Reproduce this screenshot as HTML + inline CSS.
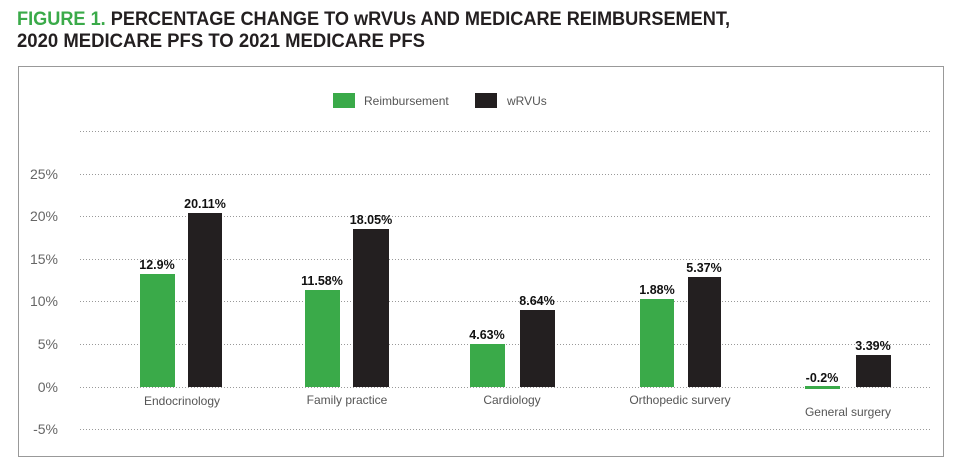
<!DOCTYPE html>
<html><head><style>
body{margin:0;background:#fff;width:956px;height:463px;overflow:hidden;font-family:"Liberation Sans",sans-serif}
</style></head><body>
<svg width="956" height="463" xmlns="http://www.w3.org/2000/svg" font-family="Liberation Sans, sans-serif">
<text x="17" y="25" font-size="19" font-weight="bold" fill="#231f20" textLength="713" lengthAdjust="spacingAndGlyphs"><tspan fill="#3aaa49">FIGURE 1.</tspan> PERCENTAGE CHANGE TO wRVUs AND MEDICARE REIMBURSEMENT,</text>
<text x="17" y="47" font-size="19" font-weight="bold" fill="#231f20" textLength="408" lengthAdjust="spacingAndGlyphs">2020 MEDICARE PFS TO 2021 MEDICARE PFS</text>
<rect x="18.5" y="66.5" width="925" height="390" fill="none" stroke="#999" stroke-width="1"/>
<rect x="333" y="93" width="22" height="15" fill="#3aaa49"/>
<text x="364" y="105" font-size="12" fill="#555">Reimbursement</text>
<rect x="475" y="93" width="22" height="15" fill="#231f20"/>
<text x="507" y="105" font-size="12" fill="#555">wRVUs</text>
<g stroke="#999" stroke-dasharray="1,2" stroke-width="1">
<line x1="80" x2="932" y1="131.5" y2="131.5"/>
<line x1="80" x2="932" y1="174.5" y2="174.5"/>
<line x1="80" x2="932" y1="216.5" y2="216.5"/>
<line x1="80" x2="932" y1="259.5" y2="259.5"/>
<line x1="80" x2="932" y1="301.5" y2="301.5"/>
<line x1="80" x2="932" y1="344.5" y2="344.5"/>
<line x1="80" x2="932" y1="387.5" y2="387.5"/>
<line x1="80" x2="932" y1="429.5" y2="429.5"/>
</g>
<g font-size="14" fill="#666" text-anchor="end">
<text x="58" y="179">25%</text><text x="58" y="221">20%</text><text x="58" y="264">15%</text>
<text x="58" y="306">10%</text><text x="58" y="349">5%</text><text x="58" y="392">0%</text><text x="58" y="434">-5%</text>
</g>
<g fill="#3aaa49">
<rect x="140" y="274" width="35" height="113"/>
<rect x="305" y="290" width="35" height="97"/>
<rect x="470" y="344" width="35" height="43"/>
<rect x="640" y="299" width="34" height="88"/>
<rect x="805" y="386" width="35" height="3"/>
</g>
<g fill="#231f20">
<rect x="188" y="213" width="34" height="174"/>
<rect x="353" y="229" width="36" height="158"/>
<rect x="520" y="310" width="35" height="77"/>
<rect x="688" y="277" width="33" height="110"/>
<rect x="856" y="355" width="35" height="32"/>
</g>
<g font-size="12.5" font-weight="bold" fill="#111" text-anchor="middle">
<text x="157" y="269">12.9%</text><text x="205" y="208">20.11%</text>
<text x="322" y="285">11.58%</text><text x="371" y="224">18.05%</text>
<text x="487" y="339">4.63%</text><text x="537" y="305">8.64%</text>
<text x="657" y="294">1.88%</text><text x="704" y="272">5.37%</text>
<text x="822" y="382">-0.2%</text><text x="873" y="350">3.39%</text>
</g>
<g font-size="12" fill="#555" text-anchor="middle">
<text x="182" y="405">Endocrinology</text>
<text x="347" y="404">Family practice</text>
<text x="512" y="404">Cardiology</text>
<text x="680" y="404">Orthopedic survery</text>
<text x="848" y="416">General surgery</text>
</g>
</svg>
</body></html>
